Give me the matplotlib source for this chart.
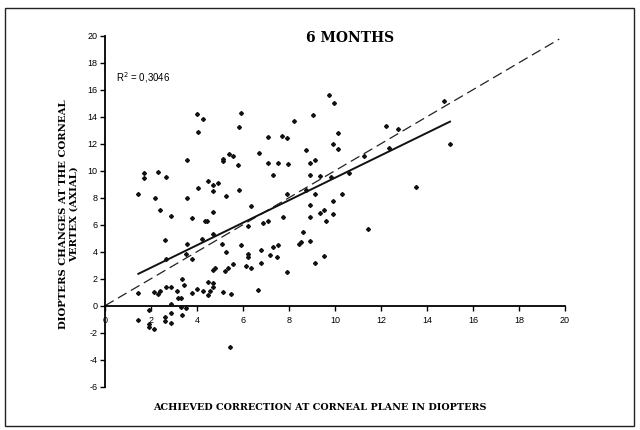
import matplotlib.pyplot as plt
import numpy as np
from matplotlib.patches import Rectangle

# achieved correction (D) vs change at the corneal vertex (D), 6 months
achieved = [
    4.0, 4.27, 4.03, 5.93, 5.81, 8.23, 3.57, 5.14, 5.14, 5.4, 5.58, 5.79, 6.68,
    7.1, 7.71, 7.93, 7.1, 7.52, 7.94, 7.29, 1.7, 1.7, 2.29, 2.65, 9.74, 9.94,
    9.03, 14.75, 10.13, 12.2, 12.73, 8.73, 9.91, 10.13, 12.36, 15.0, 8.93, 9.13,
    8.93, 9.33, 9.83, 10.6, 11.27, 13.53, 11.45, 10.29, 9.9, 9.9, 9.52, 9.33,
    9.61, 8.93, 8.93, 9.12, 8.62, 8.43, 8.52, 8.93, 9.52, 9.12, 5.81, 5.26,
    6.35, 7.93, 7.72, 1.45, 2.16, 3.57, 4.03, 4.48, 4.71, 4.71, 4.93, 2.4, 2.87,
    3.8, 4.71, 4.35, 4.45, 6.22, 6.87, 7.09, 8.73,
    2.62, 3.57, 4.23, 4.71, 5.09, 2.65, 3.5, 3.8, 4.68, 4.8, 5.27, 5.22, 5.36,
    5.58, 6.2, 6.2, 6.13, 6.33, 5.91, 6.77, 6.77, 6.65, 7.19, 7.29, 7.5, 7.48,
    7.91,
    1.45, 2.15, 2.29, 2.4, 2.65, 2.87, 3.12, 3.19, 3.3, 3.33, 3.45, 3.8, 4.01,
    4.25, 4.46, 4.48, 4.58, 4.7, 4.71, 5.14, 5.46, 2.87,
    3.32, 3.52, 2.87, 1.93, 1.45, 1.93, 1.93, 2.15, 2.62, 2.62, 2.87, 3.33, 5.45,
]
vertex = [
    14.2, 13.85, 12.9, 14.25, 13.24, 13.7, 10.8, 10.9, 10.7, 11.25, 11.1, 10.4,
    11.3, 12.5, 12.6, 12.4, 10.6, 10.6, 10.5, 9.7, 9.85, 9.44, 9.93, 9.5, 15.6,
    15.0, 14.1, 15.2, 12.8, 13.3, 13.1, 11.55, 11.98, 11.6, 11.7, 12.0, 10.6,
    10.8, 9.66, 9.63, 9.56, 9.8, 11.1, 8.8, 5.68, 8.3, 7.76, 6.8, 7.09, 6.9,
    6.27, 7.48, 6.6, 8.25, 5.46, 4.57, 4.72, 4.8, 3.7, 3.2, 8.57, 8.15, 7.39,
    8.3, 6.55, 8.27, 8.0, 7.95, 8.7, 9.21, 8.92, 8.5, 9.09, 7.09, 6.64, 6.47,
    6.96, 6.25, 6.25, 5.87, 6.15, 6.25, 8.6,
    4.87, 4.57, 4.96, 5.31, 4.57, 3.44, 3.85, 3.46, 2.64, 2.81, 3.95, 2.57, 2.81,
    3.07, 3.83, 3.58, 2.94, 2.82, 4.52, 4.13, 3.14, 1.19, 3.78, 4.32, 4.47, 3.63,
    2.47,
    0.92, 0.99, 0.84, 1.07, 1.36, 1.36, 1.09, 0.59, 0.59, 1.95, 1.51, 0.92, 1.21,
    1.11, 1.73, 0.79, 1.09, 1.66, 1.36, 1.04, 0.84, 0.1,
    -0.07, -0.19, -0.52, -0.32, -1.04, -1.36, -1.56, -1.75, -0.81, -1.13, -1.3,
    -0.69, -3.04,
]

fit_slope = 0.832
fit_intercept = 1.155
r2_text = "R$^2$ = 0,3046"

x_ticks = list(range(0, 21, 2))
y_ticks = list(range(-6, 21, 2))

plt.rcParams["font.family"] = ["Liberation Sans", "DejaVu Sans"]

fig = plt.figure(figsize=(6.4, 4.3), dpi=100)
fig.patches.append(Rectangle((5 / 640, 4 / 430), 629 / 640, 418 / 430,
                             transform=fig.transFigure, fill=False,
                             edgecolor="#222222", linewidth=1.0))

ax = fig.add_axes([105 / 640, 43.3 / 430, 460 / 640, 351 / 430])
ax.set_xlim(0, 20)
ax.set_ylim(-6, 20)

x = np.array(achieved)
y = np.array(vertex)

ax.plot(x, y, linestyle="none", marker="D", markersize=2.0, color="#111111",
        clip_on=False, zorder=3)

# identity line
ax.plot([0, 19.75], [0, 19.75], color="#222222", linewidth=0.9,
        dashes=(8, 4), clip_on=False)

# linear trend
xf = np.array([x.min(), x.max()])
ax.plot(xf, fit_intercept + fit_slope * xf, color="#111111", linewidth=1.4,
        clip_on=False)

ax.text(0.5, 16.9, r2_text, fontsize=7, va="center", ha="left")

ax.spines["top"].set_visible(False)
ax.spines["right"].set_visible(False)
ax.spines["bottom"].set_position(("data", 0))
ax.spines["left"].set_linewidth(1.3)
ax.spines["bottom"].set_linewidth(1.3)

ax.set_xticks(x_ticks)
ax.set_yticks(y_ticks)
ax.tick_params(axis="both", direction="out", length=3.5, width=1.0,
               labelsize=6.5, pad=2)
ax.tick_params(axis="x", pad=4)
ax.set_xticklabels([str(v) for v in x_ticks])
ax.set_yticklabels([str(v) for v in y_ticks])

serif = ["DejaVu Serif"]
fig.text(350 / 640, 1 - 38 / 430, "6 MONTHS", family=serif, weight="bold",
         fontsize=10, ha="center", va="center")
fig.text(320 / 640, 1 - 408 / 430,
         "ACHIEVED CORRECTION AT CORNEAL PLANE IN DIOPTERS",
         family=serif, weight="bold", fontsize=6.9, ha="center", va="center")
fig.text(69 / 640, 1 - 214 / 430,
         "DIOPTERS CHANGES AT THE CORNEAL\nVERTEX (AXIAL)",
         family=serif, weight="bold", fontsize=7.3, ha="center", va="center",
         rotation=90, multialignment="center", linespacing=1.25)

fig.savefig("out.png", dpi=100)
